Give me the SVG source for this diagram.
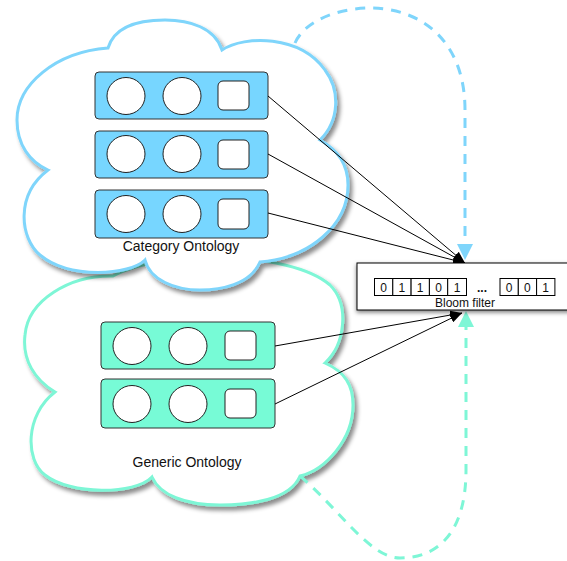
<svg xmlns="http://www.w3.org/2000/svg" width="567" height="561" viewBox="0 0 567 561">
<style>
.cloud{fill:#fff;stroke-width:3}
.bc{stroke:#7fd5fb}
.gc{stroke:#7ef6d6}
.row{stroke:#333;stroke-width:1}
.brow{fill:#77d6ff}
.grow{fill:#77fbd6}
.dot{fill:#fff;stroke:#222;stroke-width:1}
.link{stroke:#000;stroke-width:1;fill:none;marker-end:url(#ah)}
.dash{fill:none;stroke-width:3;stroke-dasharray:10 8}
.lbl{font-family:"Liberation Sans",Arial,sans-serif;font-size:14px;fill:#111;text-anchor:middle}
.cell{fill:#fff;stroke:#000;stroke-width:1}
.dig{font-family:"Liberation Sans",Arial,sans-serif;font-size:12px;fill:#111;text-anchor:middle}
</style>
<defs>
<filter id="sh" x="-10%" y="-10%" width="130%" height="130%">
<feDropShadow dx="3" dy="4" stdDeviation="2" flood-color="#000" flood-opacity="0.45"/>
</filter>
<filter id="sh2" x="-10%" y="-20%" width="130%" height="160%">
<feDropShadow dx="0" dy="2" stdDeviation="2" flood-color="#000" flood-opacity="0.5"/>
</filter>
<marker id="ah" markerUnits="userSpaceOnUse" markerWidth="12" markerHeight="9" refX="12" refY="4.5" orient="auto">
<path d="M0,0 L12,4.5 L0,9 z" fill="#000"/>
</marker>
<marker id="ahb" markerUnits="userSpaceOnUse" markerWidth="16" markerHeight="16" refX="14" refY="8" orient="auto">
<path d="M0,0 L16,8 L0,16 z" fill="#7fd5fb"/>
</marker>
<marker id="ahg" markerUnits="userSpaceOnUse" markerWidth="16" markerHeight="16" refX="14" refY="8" orient="auto">
<path d="M0,0 L16,8 L0,16 z" fill="#7ef6d6"/>
</marker>
</defs>

<g id="generic-ontology">
<path class="cloud gc" filter="url(#sh)" d="M55,392 C35,380 22,360 25,335 C28,300 70,275 113,276 C160,250 290,250 330,285 C350,305 345,345 325,363 C345,372 353,385 353,405 C353,440 325,470 300,476 C290,500 250,505 220,505 C185,505 160,495 152,477 C135,495 70,495 45,475 C25,460 25,415 55,392 Z"/>
<text class="lbl" x="187" y="467">Generic Ontology</text>
</g>

<g id="category-ontology">
<path class="cloud bc" filter="url(#sh)" d="M48,170 C30,162 17,145 17,120 C17,85 55,52 108,48 C115,25 140,20 165,20 C190,20 215,28 222,50 C245,35 300,35 325,70 C340,90 340,120 320,140 C338,150 348,165 348,185 C348,225 310,258 260,262 C250,285 220,290 200,290 C175,290 150,280 145,260 C130,275 70,280 40,255 C20,238 15,195 48,170 Z"/>
<text class="lbl" x="181" y="251">Category Ontology</text>
</g>

<g id="cat-row-1">
<rect class="row brow" x="95" y="72" width="173" height="47" rx="4"/>
<ellipse class="dot" cx="126" cy="96" rx="19" ry="18.5"/>
<ellipse class="dot" cx="182" cy="96" rx="19" ry="18.5"/>
<rect class="dot" x="218" y="81" width="31" height="29" rx="5"/>
</g>
<g id="cat-row-2">
<rect class="row brow" x="95" y="131" width="173" height="47" rx="4"/>
<ellipse class="dot" cx="126" cy="154" rx="19" ry="18.5"/>
<ellipse class="dot" cx="182" cy="154" rx="19" ry="18.5"/>
<rect class="dot" x="218" y="140" width="31" height="29" rx="5"/>
</g>
<g id="cat-row-3">
<rect class="row brow" x="95" y="190" width="173" height="48" rx="4"/>
<ellipse class="dot" cx="126" cy="214" rx="19" ry="18.5"/>
<ellipse class="dot" cx="182" cy="214" rx="19" ry="18.5"/>
<rect class="dot" x="218" y="199" width="31" height="30" rx="5"/>
</g>

<g id="gen-row-1">
<rect class="row grow" x="101" y="322" width="174" height="47" rx="4"/>
<ellipse class="dot" cx="132" cy="346" rx="19" ry="18.5"/>
<ellipse class="dot" cx="188" cy="346" rx="19" ry="18.5"/>
<rect class="dot" x="225" y="331" width="31" height="29" rx="5"/>
</g>
<g id="gen-row-2">
<rect class="row grow" x="101" y="379" width="174" height="49" rx="4"/>
<ellipse class="dot" cx="132" cy="404" rx="19" ry="18.5"/>
<ellipse class="dot" cx="188" cy="404" rx="19" ry="18.5"/>
<rect class="dot" x="225" y="389" width="31" height="29" rx="5"/>
</g>

<g id="connectors">
<path class="dash" stroke="#7fd5fb" marker-end="url(#ahb)" d="M295,43 C305,20 340,8 370,8 C420,8 465,40 465,110 L465,258"/>
<path class="dash" stroke="#7ef6d6" marker-end="url(#ahg)" d="M300,476 C340,510 370,558 400,558 C440,558 466,530 466,470 L466,313"/>
<line class="link" x1="268" y1="96" x2="465" y2="263"/>
<line class="link" x1="268" y1="154" x2="465" y2="263"/>
<line class="link" x1="268" y1="213" x2="465" y2="263"/>
<line class="link" x1="275" y1="346" x2="462" y2="313"/>
<line class="link" x1="275" y1="404" x2="462" y2="313"/>
</g>

<g id="bloom-filter">
<rect x="357" y="263" width="215" height="47" fill="#fff" stroke="#000" stroke-width="1" filter="url(#sh2)"/>
<rect class="cell" x="374.5" y="278.5" width="18.3" height="17"/>
<rect class="cell" x="392.8" y="278.5" width="18.3" height="17"/>
<rect class="cell" x="411.1" y="278.5" width="18.3" height="17"/>
<rect class="cell" x="429.4" y="278.5" width="18.3" height="17"/>
<rect class="cell" x="447.7" y="278.5" width="18.8" height="17"/>
<rect class="cell" x="500" y="278.5" width="18.3" height="17"/>
<rect class="cell" x="518.3" y="278.5" width="18.3" height="17"/>
<rect class="cell" x="536.6" y="278.5" width="18.3" height="17"/>
<text class="dig" x="383.6" y="291.5">0</text>
<text class="dig" x="401.9" y="291.5">1</text>
<text class="dig" x="420.2" y="291.5">1</text>
<text class="dig" x="438.5" y="291.5">0</text>
<text class="dig" x="457" y="291.5">1</text>
<text class="dig" x="482" y="291.5" font-weight="bold">...</text>
<text class="dig" x="509.1" y="291.5">0</text>
<text class="dig" x="527.4" y="291.5">0</text>
<text class="dig" x="545.7" y="291.5">1</text>
<text class="dig" x="465" y="307">Bloom filter</text>
</g>
</svg>
